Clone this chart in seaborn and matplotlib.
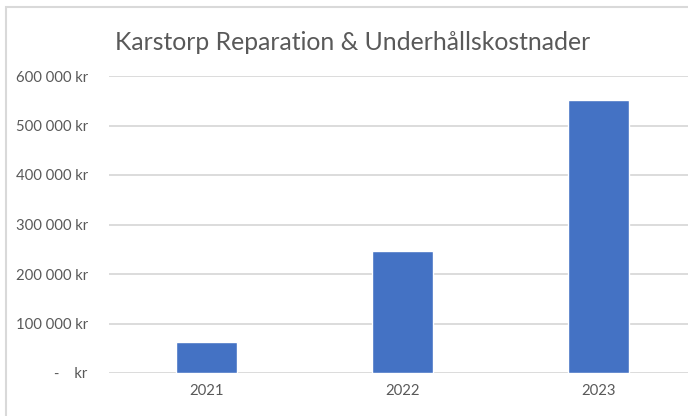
import matplotlib
matplotlib.use("Agg")
import matplotlib.pyplot as plt
import seaborn as sbn
import pandas as pd
from matplotlib.patches import Rectangle
from matplotlib.ticker import FuncFormatter

years = ["2021", "2022", "2023"]
costs = [62000, 247000, 552000]
title = "Karstorp Reparation & Underhållskostnader"

df = pd.DataFrame({"year": years, "cost": costs})

sbn.set_style("white")
plt.rcParams["font.family"] = ["Lato", "DejaVu Sans"]

W, H = 688, 416
fig = plt.figure(figsize=(W / 100, H / 100), dpi=100)
ax = fig.add_axes([108.5 / W, (H - 373) / H, (W - 108.5) / W, (373 - 76) / H])

sbn.barplot(data=df, x="year", y="cost", color="#4472C4", width=0.316,
            saturation=1, ax=ax)

ax.set_xlim(-0.5, -0.5 + (W - 108.5) / 196)
ax.set_ylim(0, 600000)
ax.set_yticks(range(0, 600001, 100000))


def kr(v, pos):
    if v == 0:
        return "-    kr"
    return "{:,.0f} kr".format(v).replace(",", " ")


ax.yaxis.set_major_formatter(FuncFormatter(kr))
ax.yaxis.grid(True, color="#d9d9d9", linewidth=1.3)
ax.set_axisbelow(True)
for s in ax.spines.values():
    s.set_visible(False)
ax.tick_params(axis="y", length=0, pad=15, labelsize=10.7, labelcolor="#595959")
ax.tick_params(axis="x", length=0, pad=8, labelsize=10.7, labelcolor="#595959")
ax.set_xlabel("")
ax.set_ylabel("")

fig.text(353 / W, 1 - 42 / H, title, ha="center", va="center",
         fontsize=17.8, color="#595959")

fig.patches.append(Rectangle((6 / W, -0.1), 1.2, 1 - 7 / H + 0.1,
                             transform=fig.transFigure, fill=False,
                             edgecolor="#d9d9d9", linewidth=1.5))

fig.savefig("out.png", dpi=100)
